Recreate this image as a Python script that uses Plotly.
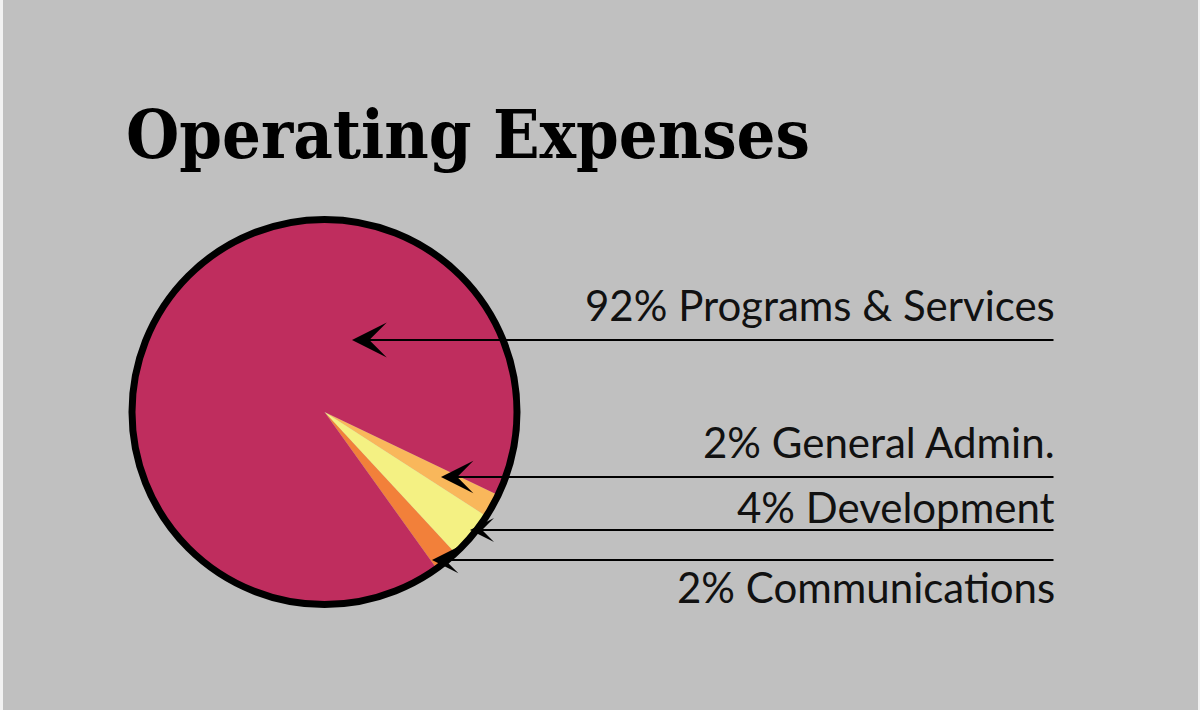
import plotly.graph_objects as go

W, H = 1200, 710

categories = ["General Admin.", "Development", "Communications", "Programs & Services"]
values = [2, 4, 2, 92]
colors = ["#F9B75B", "#F4F183", "#F2803A", "#BF2D5E"]
label_texts = ["2% General Admin.", "4% Development", "2% Communications", "92% Programs & Services"]

# layout helpers (pixel positions)
cx, cy, r = 324.5, 412.0, 190.0
def px(x): return x / W
def py(y): return 1 - y / H

fig = go.Figure()
fig.add_trace(go.Pie(
    labels=categories, values=values, sort=False,
    direction="clockwise", rotation=115.6,
    marker=dict(colors=colors, line=dict(width=0)),
    textinfo="none", hoverinfo="label+percent", showlegend=False,
    domain=dict(x=[px(cx - r), px(cx + r)], y=[py(cy + r), py(cy - r)]),
))

shapes = [
    dict(type="rect", xref="paper", yref="paper", x0=px(3), x1=px(1198), y0=0, y1=1,
         fillcolor="#C0C0C0", line=dict(width=0), layer="below"),
    dict(type="circle", xref="paper", yref="paper",
         x0=px(cx - 192.5), x1=px(cx + 192.5), y0=py(cy + 192.5), y1=py(cy - 192.5),
         line=dict(color="black", width=7), fillcolor="rgba(0,0,0,0)", layer="above"),
]

label_font = dict(family="Lato, 'Noto Sans', sans-serif", size=42, color="#111111")
label_y = [442, 507, 587, 305]
arrow_tips = [(441, 477), (470, 530), (432, 560), (352, 340)]
arrow_sizes = [2.7, 2.0, 2.2, 2.9]
line_end = 1055

annotations = [
    dict(text="<b>Operating Expenses</b>", xref="paper", yref="paper",
         x=px(124), y=py(134), xanchor="left", yanchor="middle", showarrow=False,
         font=dict(family="'DejaVu Serif Condensed', 'DejaVu Serif', serif", size=68, color="black")),
]
for txt, ly in zip(label_texts, label_y):
    annotations.append(dict(text=txt, xref="paper", yref="paper", x=px(line_end + 2), y=py(ly),
                            xanchor="right", yanchor="middle", showarrow=False, font=label_font))
for (tx, ty), sz in zip(arrow_tips, arrow_sizes):
    annotations.append(dict(text="", xref="paper", yref="paper", x=px(tx), y=py(ty),
                            ax=line_end - tx, ay=0, showarrow=True, arrowhead=3,
                            arrowsize=sz, arrowwidth=2, arrowcolor="black"))

fig.update_layout(
    width=W, height=H, margin=dict(l=0, r=0, t=0, b=0),
    paper_bgcolor="#F2F2F2", plot_bgcolor="#C0C0C0",
    shapes=shapes, annotations=annotations,
)
fig.write_html("out.html", config={"displayModeBar": False},
               post_script="document.body.style.margin='0';document.body.style.overflow='hidden';")
